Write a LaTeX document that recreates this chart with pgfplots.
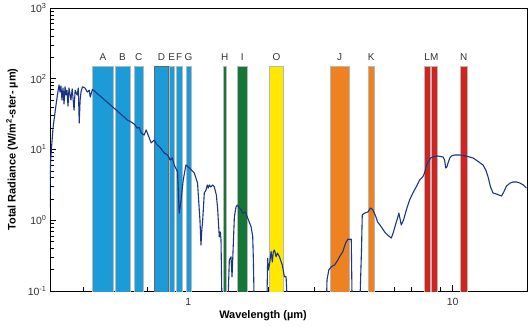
\documentclass[border=0pt]{standalone}
\usepackage{pgfplots}
\pgfplotsset{compat=1.18}
\usepackage{fontspec}
\setmainfont{Liberation Sans}
\definecolor{bandblue}{RGB}{27,155,215}
\definecolor{bandgreen}{RGB}{22,118,55}
\definecolor{bandyellow}{RGB}{255,232,0}
\definecolor{bandorange}{RGB}{238,130,32}
\definecolor{bandred}{RGB}{210,35,30}
\definecolor{curveblue}{RGB}{26,54,132}
\newcommand{\band}[4]{%
  \addplot[fill=#3, draw=#4, line width=0.5bp] coordinates {(#1,0.05) (#1,150) (#2,150) (#2,0.05)} -- cycle;}
\begin{document}
\begin{tikzpicture}
\useasboundingbox (-50bp,-36bp) rectangle (481bp,291bp);
\begin{axis}[
  at={(0,0)}, anchor=south west,
  scale only axis, width=477bp, height=283bp,
  xmode=log, ymode=log,
  xmin=0.3, xmax=19.1, ymin=0.1, ymax=1000,
  xtick={1,10}, xticklabels={1,10},
  minor xtick={0.3,0.4,0.5,0.6,0.7,0.8,0.9,2,3,4,5,6,7,8,9},
  ytick={0.1,1,10,100,1000},
  yticklabels={10\textsuperscript{-1},10\textsuperscript{0},10\textsuperscript{1},10\textsuperscript{2},10\textsuperscript{3}},
  minor ytick={0.2,0.3,0.4,0.5,0.6,0.7,0.8,0.9,2,3,4,5,6,7,8,9,20,30,40,50,60,70,80,90,200,300,400,500,600,700,800,900},
  xtick pos=left, ytick pos=left, tick align=inside,
  major tick length=6bp, minor tick length=4bp,
  tick label style={font=\fontsize{10.5}{12}\selectfont, text=black!80},
  xticklabel style={yshift=-4bp},
  axis line style={line width=0.8bp},
  tick style={black, line width=0.6bp},
]
\band{0.435}{0.520}{bandblue}{gray!55}
\band{0.529}{0.601}{bandblue}{gray!55}
\band{0.623}{0.676}{bandblue}{gray!55}
\band{0.745}{0.842}{bandblue}{black!60}
\band{0.848}{0.883}{bandblue}{gray!55}
\band{0.901}{0.949}{bandblue}{gray!55}
\band{0.980}{1.024}{bandblue}{gray!55}
\band{1.353}{1.393}{bandgreen}{gray!55}
\band{1.529}{1.673}{bandgreen}{gray!55}
\band{2.027}{2.290}{bandyellow}{gray!55}
\band{3.45}{4.05}{bandorange}{gray!55}
\band{4.79}{5.05}{bandorange}{gray!55}
\band{7.83}{8.20}{bandred}{gray!55}
\band{8.33}{8.72}{bandred}{gray!55}
\band{10.66}{11.37}{bandred}{gray!55}
\addplot[color=curveblue, line width=1.1bp, line join=round] coordinates {
(0.298,1.54) (0.302,7.6) (0.308,20.1) (0.315,38.6) (0.320,58.9) (0.3246,81.6)
(0.3274,65) (0.330,79) (0.333,50) (0.336,74) (0.339,44) (0.342,77) (0.345,59)
(0.348,69) (0.351,41) (0.354,74) (0.360,50) (0.364,72) (0.370,36) (0.3735,69)
(0.380,59) (0.384,74) (0.387,23.7) (0.390,50) (0.393,65) (0.398,77) (0.407,74)
(0.415,65) (0.422,69) (0.426,55) (0.434,71) (0.525,38.2) (0.589,26.1) (0.6065,24.7)
(0.6245,22.9) (0.641,20.1) (0.652,20.6) (0.664,17.1) (0.681,16.0) (0.693,18.9)
(0.712,14.6) (0.724,12.4) (0.743,13.6) (0.763,11.6) (0.777,11.0) (0.797,9.8)
(0.811,8.93) (0.835,8.36) (0.855,7.1) (0.870,7.6) (0.885,6.04) (0.911,4.85)
(0.924,1.26) (0.938,1.87) (0.957,3.7) (0.980,6.04) (1.009,5.48) (1.054,4.66)
(1.084,3.36) (1.107,1.01) (1.117,0.447) (1.125,0.728) (1.133,0.955) (1.150,2.43)
(1.167,2.68) (1.180,3.15) (1.190,2.86) (1.201,3.15) (1.217,2.95) (1.236,3.15)
(1.254,2.98) (1.277,2.27) (1.291,1.49) (1.310,0.585) (1.322,0.683) (1.330,0.526)
(1.342,0.05) (1.409,0.05) (1.430,0.274) (1.451,0.305) (1.464,0.159) (1.494,1.12)
(1.516,1.55) (1.533,1.64) (1.560,1.49) (1.587,1.40) (1.606,1.26) (1.644,1.31)
(1.677,1.08) (1.728,0.81) (1.753,0.585) (1.763,0.274) (1.778,0.05) (1.980,0.05)
(1.997,0.290) (2.008,0.198) (2.027,0.233) (2.057,0.360) (2.079,0.257) (2.097,0.356)
(2.118,0.380) (2.149,0.305) (2.174,0.344) (2.212,0.305) (2.245,0.259) (2.268,0.233)
(2.310,0.159) (2.344,0.159) (2.377,0.05) (3.324,0.05) (3.347,0.143) (3.400,0.198)
(3.471,0.220) (3.573,0.233) (3.678,0.274) (3.733,0.305) (3.841,0.360) (3.934,0.472)
(4.013,0.538) (4.134,0.538) (4.17,0.05) (4.445,0.05) (4.52,0.38) (4.55,1.19)
(4.64,1.26) (4.78,1.31) (4.89,1.49) (4.99,1.40) (5.11,1.15) (5.20,0.946) (5.34,0.83)
(5.53,0.683) (5.67,0.619) (5.86,0.561) (5.97,0.683) (6.12,0.946) (6.19,1.08)
(6.26,1.26) (6.39,0.857) (6.52,1.01) (6.68,1.40) (6.87,1.93) (7.07,2.43) (7.31,3.05)
(7.50,3.71) (7.70,4.08) (7.83,4.66) (7.97,6.04) (8.06,6.65) (8.25,7.59) (8.42,7.84)
(8.77,8.1) (9.19,7.84) (9.32,7.1) (9.41,5.48) (9.50,5.66) (9.60,6.44) (9.75,7.59)
(9.89,8.1) (10.18,8.36) (10.63,8.36) (11.2,8.1) (11.94,7.59) (12.4,6.89) (13.02,6.04)
(13.34,5.13) (13.61,4.08) (13.9,2.95) (14.21,2.43) (14.64,2.35) (14.95,2.27)
(15.30,2.20) (15.6,2.51) (15.98,3.05) (16.5,3.36) (16.92,3.47) (17.47,3.47)
(17.94,3.36) (18.5,3.15) (19.0,2.86)
};
\begin{scope}[every node/.style={font=\fontsize{10}{12}\selectfont, text=black!80}]
\node at (axis cs:0.4756,205) {A};
\node at (axis cs:0.5638,205) {B};
\node at (axis cs:0.6490,205) {C};
\node at (axis cs:0.7920,205) {D};
\node at (axis cs:0.8653,205) {E};
\node at (axis cs:0.9247,205) {F};
\node at (axis cs:1.0018,205) {G};
\node at (axis cs:1.3728,205) {H};
\node at (axis cs:1.5994,205) {I};
\node at (axis cs:2.1545,205) {O};
\node at (axis cs:3.7381,205) {J};
\node at (axis cs:4.9168,205) {K};
\node at (axis cs:8.0104,205) {L};
\node at (axis cs:8.5228,205) {M};
\node at (axis cs:11.0093,205) {N};
\end{scope}
\end{axis}
\node[rotate=90, font=\bfseries\fontsize{11}{13}\selectfont] at (-38bp,141.5bp) {Total Radiance (W/m\textsuperscript{2}-ster- µm)};
\node[font=\bfseries\fontsize{11}{13}\selectfont] at (213bp,-25bp) {Wavelength (µm)};
\end{tikzpicture}
\end{document}
